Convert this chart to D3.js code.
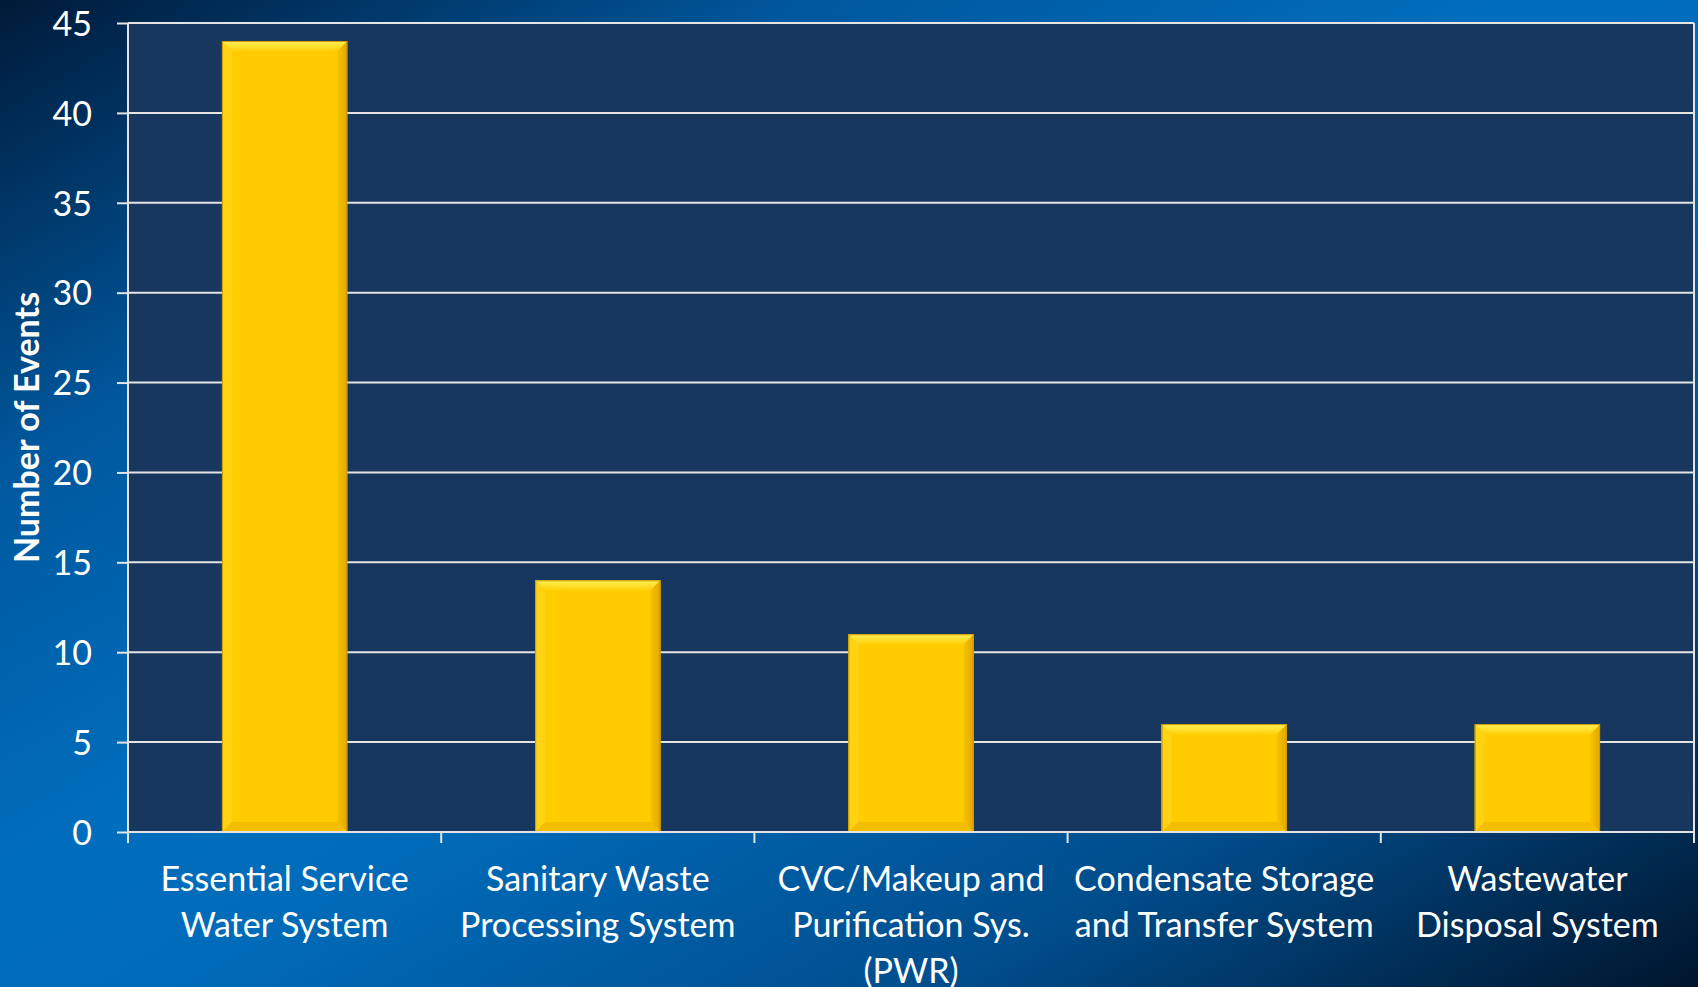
<!DOCTYPE html>
<html>
<head>
<meta charset="utf-8">
<script src="https://cdn.jsdelivr.net/npm/d3@7"></script>
<style>
  html, body { margin: 0; padding: 0; background: #003a70; }
  svg { display: block; }
  text { font-family: Lato, "Open Sans", sans-serif; fill: #ffffff; }
</style>
</head>
<body>
<div id="chart-area"></div>
<script>
// data
const categories = [
    "Essential Service\nWater System",
    "Sanitary Waste\nProcessing System",
    "CVC/Makeup and\nPurification Sys.\n(PWR)",
    "Condensate Storage\nand Transfer System",
    "Wastewater\nDisposal System"
];
const eventCounts = [44, 14, 11, 6, 6];
const yTicks = [0, 5, 10, 15, 20, 25, 30, 35, 40, 45];
const yTitle = "Number of Events";

const W = 1698, H = 987;
const MARGINS = { top: 23, right: 4, left: 128, bottom: 155 };
const CHART_WIDTH = W - MARGINS.left - MARGINS.right;
const CHART_HEIGHT = H - MARGINS.top - MARGINS.bottom;
const BEVEL = 10;

const svg = d3.select('#chart-area')
  .append('svg')
  .attr('width', W)
  .attr('height', H);

const defs = svg.append('defs');

// slide background
const bg = defs.append('linearGradient')
  .attr('id', 'bg-grad')
  .attr('x1', 0).attr('y1', 0).attr('x2', 1).attr('y2', 1);
[[0, '#001a38'], [0.24, '#00589e'], [0.45, '#006ebd'], [0.55, '#006bb9'], [0.78, '#004d8c'], [1, '#00152c']]
  .forEach(s => bg.append('stop').attr('offset', s[0]).attr('stop-color', s[1]));

// bevel strips
const topGrad = defs.append('linearGradient')
  .attr('id', 'bevel-top').attr('x1', 0).attr('y1', 0).attr('x2', 0).attr('y2', 1);
topGrad.append('stop').attr('offset', 0).attr('stop-color', '#fff05a');
topGrad.append('stop').attr('offset', 1).attr('stop-color', '#ffd10a');
const rightGrad = defs.append('linearGradient')
  .attr('id', 'bevel-right').attr('x1', 0).attr('y1', 0).attr('x2', 1).attr('y2', 0);
rightGrad.append('stop').attr('offset', 0).attr('stop-color', '#f7c300');
rightGrad.append('stop').attr('offset', 1).attr('stop-color', '#e3a600');

svg.append('rect')
  .attr('width', W)
  .attr('height', H)
  .attr('fill', 'url(#bg-grad)');

const g = svg.append('g')
  .attr('transform', `translate(${MARGINS.left}, ${MARGINS.top})`);

// Scales
const xScale = d3.scaleBand()
  .domain(categories)
  .range([0, CHART_WIDTH])
  .paddingInner(0.6)
  .paddingOuter(0.3);
const yScale = d3.scaleLinear()
  .domain([0, 45])
  .range([CHART_HEIGHT, 0]);

// plot area
g.append('rect')
  .attr('width', CHART_WIDTH)
  .attr('height', CHART_HEIGHT)
  .attr('fill', '#18375f');

// gridlines
g.selectAll('.grid')
  .data(yTicks.filter(d => d > 0))
  .enter().append('line')
  .attr('class', 'grid')
  .attr('x1', 0)
  .attr('x2', CHART_WIDTH)
  .attr('y1', d => yScale(d))
  .attr('y2', d => yScale(d))
  .attr('stroke', '#e4e4e4')
  .attr('stroke-width', 2);

// right border
g.append('line')
  .attr('x1', CHART_WIDTH).attr('x2', CHART_WIDTH)
  .attr('y1', 0).attr('y2', CHART_HEIGHT + 11)
  .attr('stroke', '#e4e4e4')
  .attr('stroke-width', 2);

// Bars
const bars = g.selectAll('.bar')
  .data(eventCounts)
  .enter().append('g')
  .attr('class', 'bar');

bars.append('rect')
  .attr('x', (d, i) => xScale(categories[i]))
  .attr('y', d => yScale(d))
  .attr('width', xScale.bandwidth())
  .attr('height', d => CHART_HEIGHT - yScale(d))
  .attr('fill', '#ffcc00');

function bevelPoints(d, i, side) {
  const x0 = xScale(categories[i]), x1 = x0 + xScale.bandwidth();
  const y0 = yScale(d), y1 = yScale(0);
  const b = BEVEL;
  if (side === 'top') return [[x0, y0], [x1, y0], [x1 - b, y0 + b], [x0 + b, y0 + b]];
  if (side === 'left') return [[x0, y0], [x0 + b, y0 + b], [x0 + b, y1 - b], [x0, y1]];
  if (side === 'right') return [[x1, y0], [x1 - b, y0 + b], [x1 - b, y1 - b], [x1, y1]];
  return [[x0, y1], [x0 + b, y1 - b], [x1 - b, y1 - b], [x1, y1]];
}
const bevelFills = { top: 'url(#bevel-top)', left: '#ffd214', right: 'url(#bevel-right)', bottom: '#f3be00' };
['left', 'right', 'bottom', 'top'].forEach(side => {
  bars.append('polygon')
    .attr('points', (d, i) => bevelPoints(d, i, side).join(' '))
    .attr('fill', bevelFills[side]);
});

bars.append('rect')
  .attr('x', (d, i) => xScale(categories[i]) + 0.5)
  .attr('y', d => yScale(d) + 0.5)
  .attr('width', xScale.bandwidth() - 1)
  .attr('height', d => CHART_HEIGHT - yScale(d) - 1)
  .attr('fill', 'none')
  .attr('stroke', '#c99a00')
  .attr('stroke-width', 1);

// Y Axis
const yAxisCall = d3.axisLeft(yScale)
  .tickValues(yTicks)
  .tickSize(11)
  .tickPadding(25);
const yAxis = g.append('g')
  .attr('class', 'y axis')
  .call(yAxisCall);
yAxis.select('.domain').remove();
yAxis.append('line')
  .attr('x1', 0).attr('x2', 0)
  .attr('y1', 0).attr('y2', CHART_HEIGHT + 11)
  .attr('stroke', '#e4e4e4')
  .attr('stroke-width', 2);
yAxis.selectAll('.tick line')
  .attr('stroke', '#e4e4e4')
  .attr('stroke-width', 2);
yAxis.selectAll('.tick text')
  .attr('font-size', '34px')
  .attr('font-family', 'Lato, sans-serif')
  .attr('fill', '#ffffff')
  .attr('dy', '0.36em');

// X Axis
g.append('line')
  .attr('x1', 0).attr('x2', CHART_WIDTH)
  .attr('y1', CHART_HEIGHT).attr('y2', CHART_HEIGHT)
  .attr('stroke', '#e4e4e4')
  .attr('stroke-width', 2);

const edgeGap = (xScale.step() - xScale.bandwidth()) / 2;
g.selectAll('.x-tick')
  .data(categories.slice(1))
  .enter().append('line')
  .attr('class', 'x-tick')
  .attr('x1', d => xScale(d) - edgeGap)
  .attr('x2', d => xScale(d) - edgeGap)
  .attr('y1', CHART_HEIGHT)
  .attr('y2', CHART_HEIGHT + 11)
  .attr('stroke', '#e4e4e4')
  .attr('stroke-width', 2);

const xLabels = g.selectAll('.x-label')
  .data(categories)
  .enter().append('text')
  .attr('class', 'x-label')
  .attr('text-anchor', 'middle')
  .attr('font-size', '34px')
  .attr('transform', d => `translate(${xScale(d) + xScale.bandwidth() / 2}, ${CHART_HEIGHT + 59})`);
xLabels.each(function(d) {
  d3.select(this).selectAll('tspan')
    .data(d.split('\n'))
    .enter().append('tspan')
    .attr('x', 0)
    .attr('y', (l, j) => j * 46)
    .text(l => l);
});

// Y title
g.append('text')
  .attr('transform', 'rotate(-90)')
  .attr('x', -CHART_HEIGHT / 2)
  .attr('y', 39 - MARGINS.left)
  .attr('text-anchor', 'middle')
  .attr('font-size', '34px')
  .attr('font-weight', 'bold')
  .text(yTitle);
</script>
</body>
</html>
